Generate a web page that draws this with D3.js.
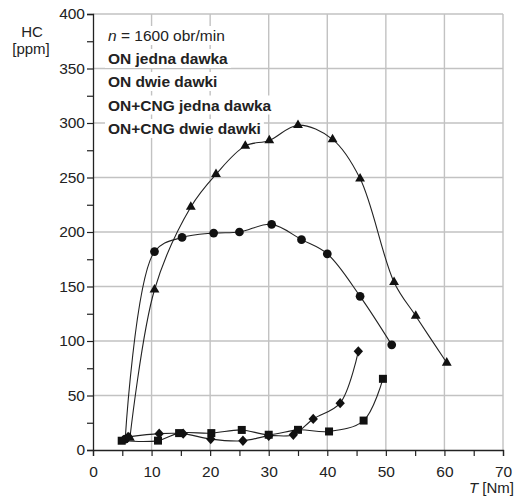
<!DOCTYPE html>
<html><head><meta charset="utf-8">
<script src="https://cdn.jsdelivr.net/npm/d3@7"></script>
<style>body{margin:0;background:#fff;} svg{display:block;font-family:"Liberation Sans",Arial,sans-serif;}</style>
</head><body>
<script>
// ---- data ----
const xTicks = [0,10,20,30,40,50,60,70];
const yTicks = [0,50,100,150,200,250,300,350,400];
const legendTitle = "= 1600 obr/min";
const seriesNames = ["ON jedna dawka","ON dwie dawki","ON+CNG jedna dawka","ON+CNG dwie dawki"];
const triangleT = [6.3,10.5,16.7,21,26,30.1,35,40.9,45.6,51.4,55.1,60.4];
const triangleHC = [11,147,223,253,279,284,298,285,249,154,123,80];
const circleT = [5.5,10.5,15.2,20.6,25,30.5,35.6,40,45.6,51];
const circleHC = [10,182,195,199,200,207,193,180,141,96.5];
const diamondT = [6,11.3,15.4,20.1,25.6,30,34.2,37.6,42.2,45.3];
const diamondHC = [12,15,15,10,8.5,13,14,28.5,43,90.5];
const squareT = [4.9,11.1,14.7,20.2,25.4,30,35,40.3,46.2,49.5];
const squareHC = [8.5,8.6,15.5,15.5,18.4,14,18.5,17,27,65.3];

const W=522,H=498;
const FONT="Liberation Sans, Arial, sans-serif";
const svg=d3.select("body").append("svg").attr("width",W).attr("height",H);
const x=d3.scaleLinear().domain([0,70]).range([93,503]);
const y=d3.scaleLinear().domain([0,400]).range([450,14]);

// grid
const g=svg.append("g");
g.selectAll(".vg").data(xTicks.filter(d=>d>0)).join("line")
  .attr("x1",d=>x(d)).attr("x2",d=>x(d)).attr("y1",y(0)).attr("y2",y(400))
  .attr("stroke","#c2c2c2").attr("stroke-width",1.4);
g.selectAll(".hg").data(yTicks.filter(d=>d>0)).join("line")
  .attr("x1",x(0)).attr("x2",x(70)).attr("y1",d=>y(d)).attr("y2",d=>y(d))
  .attr("stroke","#c2c2c2").attr("stroke-width",1.4);

// axes
const xAxis=d3.axisBottom(x).tickValues(d3.range(0,71,5)).tickSize(6)
  .tickFormat(d=>xTicks.includes(d)?d:"");
const xa=svg.append("g").attr("transform",`translate(0,${y(0)})`).call(xAxis);
xa.select(".domain").attr("stroke","#222").attr("stroke-width",1.3);
xa.selectAll(".tick line").attr("stroke","#222").attr("stroke-width",1.2);
xa.selectAll("text").attr("font-size",15.5).attr("fill","#222").attr("y",27).attr("dy",0).attr("font-family",FONT);

const yAxis=d3.axisLeft(y).tickValues(d3.range(0,401,25)).tickSize(6)
  .tickFormat(d=>yTicks.includes(d)?d:"");
const ya=svg.append("g").attr("transform",`translate(${x(0)},0)`).call(yAxis);
ya.select(".domain").attr("stroke","#222").attr("stroke-width",1.3);
ya.selectAll(".tick line").attr("stroke","#222").attr("stroke-width",1.2);
ya.selectAll("text").attr("font-size",15.5).attr("fill","#222").attr("x",-8).attr("font-family",FONT);

// axis titles
svg.append("text").attr("x",32).attr("y",37).attr("text-anchor","middle").attr("font-size",15).attr("fill","#222").text("HC");
svg.append("text").attr("x",31).attr("y",54).attr("text-anchor","middle").attr("font-size",15).attr("fill","#222").text("[ppm]");
const tt=svg.append("text").attr("x",514).attr("y",493).attr("text-anchor","end").attr("font-size",15).attr("fill","#222");
tt.append("tspan").attr("font-style","italic").text("T");
tt.append("tspan").text(" [Nm]");

// legend (text only, white boxes)
const lg=svg.append("g");
const lines=[{t:"n",rest:" "+legendTitle,bold:false},...seriesNames.map(s=>({t:null,rest:s,bold:true}))];
const ly=[41,64,87,110.5,134];
lines.forEach((l,i)=>{
  const txt=lg.append("text").attr("x",108).attr("y",ly[i]).attr("font-size",15.5).attr("fill","#222")
    .attr("font-weight",l.bold?"bold":"normal");
  if(l.t){txt.append("tspan").attr("font-style","italic").text(l.t);}
  txt.append("tspan").text(l.rest);
  const bb=txt.node().getBBox();
  lg.insert("rect","text").attr("x",bb.x-3).attr("y",bb.y-1).attr("width",bb.width+6).attr("height",bb.height+2).attr("fill","#fff");
});

// series
const diamondSym={draw(ctx,size){const r=Math.sqrt(size)/Math.SQRT2;ctx.moveTo(0,-r*1.1);ctx.lineTo(r,0);ctx.lineTo(0,r*1.1);ctx.lineTo(-r,0);ctx.closePath();}};
const series=[
  {T:triangleT,V:triangleHC,shape:d3.symbolTriangle,size:42},
  {T:circleT,V:circleHC,shape:d3.symbolCircle,size:60},
  {T:diamondT,V:diamondHC,shape:diamondSym,size:44},
  {T:squareT,V:squareHC,shape:d3.symbolSquare,size:64},
];
const line=d3.line().x(d=>x(d[0])).y(d=>y(d[1])).curve(d3.curveCatmullRom.alpha(0.5));
series.forEach(s=>{
  const pts=s.T.map((t,i)=>[t,s.V[i]]);
  svg.append("path").datum(pts).attr("d",line).attr("fill","none").attr("stroke","#222").attr("stroke-width",1.1);
});
series.forEach(s=>{
  const pts=s.T.map((t,i)=>[t,s.V[i]]);
  svg.append("g").selectAll("path").data(pts).join("path")
    .attr("transform",d=>`translate(${x(d[0])},${y(d[1])})`)
    .attr("d",d3.symbol().type(s.shape).size(s.size)).attr("fill","#111");
});
</script>
</body></html>
